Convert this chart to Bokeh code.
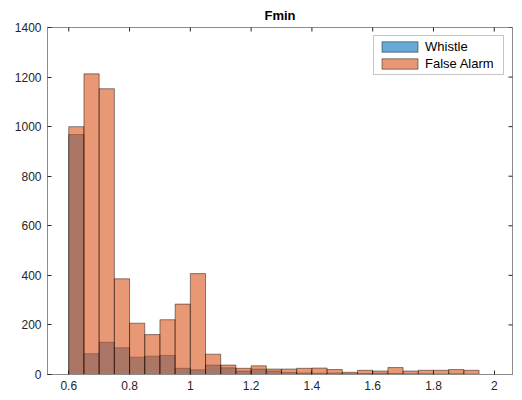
import math
from bokeh.plotting import figure
from bokeh.models import LinearAxis, FixedTicker, Range1d, Legend, LegendItem, ColumnDataSource
from bokeh.embed import file_html
from bokeh.resources import INLINE

# ---- data ----
bin_left = [0.60, 0.65, 0.70, 0.75, 0.80, 0.85, 0.90, 0.95, 1.00, 1.05, 1.10, 1.15, 1.20, 1.25,
            1.30, 1.35, 1.40, 1.45, 1.50, 1.55, 1.60, 1.65, 1.70, 1.75, 1.80, 1.85, 1.90]
bin_right = [0.65, 0.70, 0.75, 0.80, 0.85, 0.90, 0.95, 1.00, 1.05, 1.10, 1.15, 1.20, 1.25, 1.30,
             1.35, 1.40, 1.45, 1.50, 1.55, 1.60, 1.65, 1.70, 1.75, 1.80, 1.85, 1.90, 1.95]
whistle = [968, 84, 130, 108, 70, 74, 77, 25, 19, 38, 27, 14, 22, 14,
           8, 6, 5, 6, 3, 4, 5, 4, 3, 3, 2, 3, 2]
false_alarm = [1000, 1213, 1153, 386, 207, 161, 221, 284, 407, 82, 38, 25, 35, 22,
               22, 25, 26, 20, 9, 17, 14, 28, 14, 17, 17, 20, 17]
x_ticks = [0.6, 0.8, 1.0, 1.2, 1.4, 1.6, 1.8, 2.0]
x_tick_labels = ["0.6", "0.8", "1", "1.2", "1.4", "1.6", "1.8", "2"]
y_ticks = [0, 200, 400, 600, 800, 1000, 1200, 1400]
series_names = ["Whistle", "False Alarm"]
series_colors = ["#0072BD", "#D95319"]
x_lim = (0.53, 2.06)
y_lim = (0, 1400)

FONT = "Liberation Sans"
AXC = "#8c8c8c"
TXT = "#262626"

p = figure(width=514, height=392, output_backend="svg", toolbar_location=None,
           x_range=Range1d(*x_lim), y_range=Range1d(*y_lim),
           x_axis_location=None, y_axis_location=None,
           min_border_left=47, min_border_right=2, min_border_top=4, min_border_bottom=4)
p.background_fill_color = "white"
p.border_fill_color = "white"
p.outline_line_color = AXC
p.xgrid.visible = False
p.ygrid.visible = False

p.title.text = "Fmin"
p.title.align = "center"
p.title.text_font = FONT
p.title.text_font_size = "13px"
p.title.text_font_style = "bold"
p.title.text_color = "#000000"
p.title.offset = 0

renderers = []
for name, vals, col in zip(series_names, [whistle, false_alarm], series_colors):
    src = ColumnDataSource(dict(left=bin_left, right=bin_right, top=vals, bottom=[0] * len(vals)))
    r = p.quad(left="left", right="right", top="top", bottom="bottom", source=src,
               fill_color=col, fill_alpha=0.6, line_color="black", line_alpha=0.75, line_width=0.6)
    renderers.append(r)

# inward ticks on the top and right edges of the box (clipped half of a dash marker)
p.scatter(x=x_ticks, y=[y_lim[1]] * len(x_ticks), marker="dash", size=8, angle=math.pi / 2,
          line_color=TXT, line_width=1)
p.scatter(x=[x_lim[1]] * len(y_ticks), y=y_ticks, marker="dash", size=8,
          line_color=TXT, line_width=1)

def style_axis(ax):
    ax.axis_line_color = AXC
    ax.major_tick_line_color = TXT
    ax.major_tick_in = 4
    ax.major_tick_out = 0
    ax.minor_tick_line_color = None
    ax.major_label_text_font = FONT
    ax.major_label_text_font_size = "12px"
    ax.major_label_text_color = TXT
    ax.major_label_standoff = 6

xb = LinearAxis(ticker=FixedTicker(ticks=x_ticks))
xb.major_label_overrides = dict(zip(x_ticks, x_tick_labels))
style_axis(xb)
p.add_layout(xb, "below")
yl = LinearAxis(ticker=FixedTicker(ticks=y_ticks))
style_axis(yl)
p.add_layout(yl, "left")

legend = Legend(items=[LegendItem(label=n, renderers=[r]) for n, r in zip(series_names, renderers)],
                location="top_right")
legend.label_text_font = FONT
legend.label_text_font_size = "13px"
legend.label_text_color = "#000000"
legend.glyph_width = 45
legend.glyph_height = 13
legend.label_standoff = 3
legend.spacing = 2
legend.padding = 3
legend.margin = 8
legend.label_height = 15
legend.label_width = 75
legend.border_line_color = "#8c8c8c"
legend.background_fill_alpha = 1
p.add_layout(legend, "center")

open("out.html", "w").write(file_html(p, INLINE))
